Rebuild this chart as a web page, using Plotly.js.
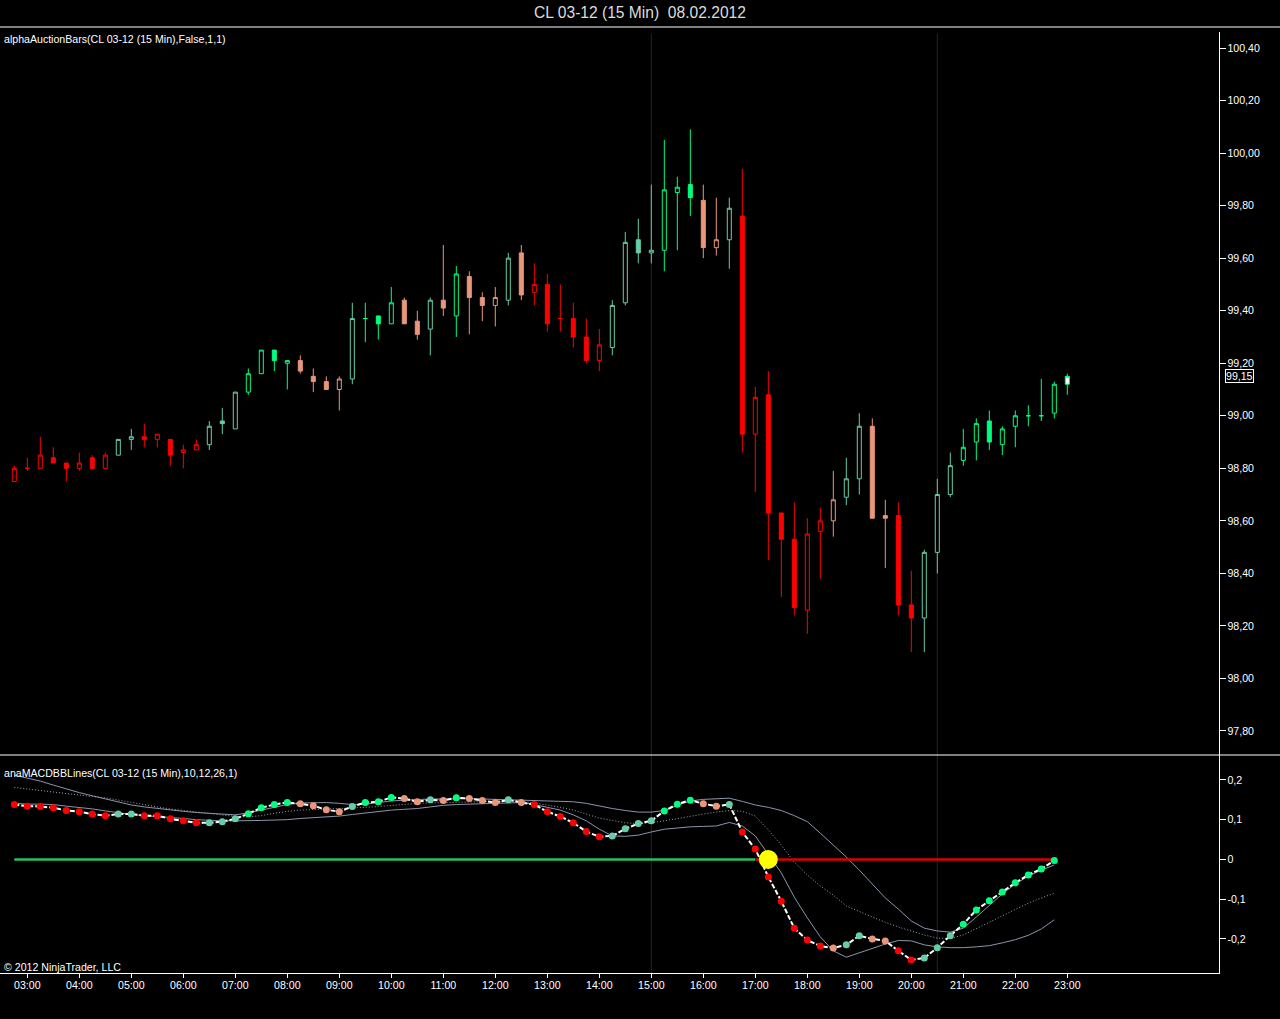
<!DOCTYPE html>
<html>
<head>
<meta charset="utf-8">
<script src="https://cdn.plot.ly/plotly-3.0.1.min.js"></script>
<style>
html,body{margin:0;padding:0;background:#000;overflow:hidden}
#chart{width:1280px;height:1019px}
</style>
</head>
<body>
<div id="chart"></div>
<script>
// ---------------- DATA ----------------
const chartDate = '2012-02-08';
const chartTitle = 'CL 03-12 (15 Min)\u00a0 08.02.2012';
const priceLabel = 'alphaAuctionBars(CL 03-12 (15 Min),False,1,1)';
const macdLabel = 'anaMACDBBLines(CL 03-12 (15 Min),10,12,26,1)';
const copyrightText = '\u00a9 2012 NinjaTrader, LLC';

const times = [
  '02:45',
  '03:00','03:15','03:30','03:45','04:00','04:15','04:30','04:45',
  '05:00','05:15','05:30','05:45','06:00','06:15','06:30','06:45',
  '07:00','07:15','07:30','07:45','08:00','08:15','08:30','08:45',
  '09:00','09:15','09:30','09:45','10:00','10:15','10:30','10:45',
  '11:00','11:15','11:30','11:45','12:00','12:15','12:30','12:45',
  '13:00','13:15','13:30','13:45','14:00','14:15','14:30','14:45',
  '15:00','15:15','15:30','15:45','16:00','16:15','16:30','16:45',
  '17:00','17:15','17:30','17:45','18:00','18:15','18:30','18:45',
  '19:00','19:15','19:30','19:45','20:00','20:15','20:30','20:45',
  '21:00','21:15','21:30','21:45','22:00','22:15','22:30','22:45',
  '23:00'
];

const openP = [98.75,98.80,98.80,98.84,98.82,98.80,98.84,98.80,98.85,98.91,
  98.92,98.91,98.91,98.86,98.87,98.89,98.98,98.95,99.09,99.16,
  99.25,99.20,99.21,99.15,99.13,99.10,99.14,99.37,99.38,99.35,
  99.44,99.36,99.33,99.44,99.38,99.53,99.45,99.42,99.44,99.62,
  99.47,99.50,99.37,99.37,99.30,99.21,99.26,99.43,99.67,99.62,
  99.63,99.85,99.88,99.82,99.64,99.67,99.76,98.93,99.08,98.63,
  98.53,98.26,98.56,98.60,98.69,98.76,98.96,98.62,98.62,98.28,
  98.23,98.48,98.70,98.83,98.90,98.98,98.89,98.96,99.00,99.00,
  99.01,99.12];
const highP = [98.81,98.84,98.92,98.88,98.82,98.86,98.85,98.86,98.91,98.95,
  98.97,98.93,98.91,98.89,98.91,98.98,99.03,99.09,99.18,99.25,
  99.25,99.21,99.23,99.18,99.15,99.15,99.43,99.43,99.38,99.49,
  99.45,99.40,99.45,99.65,99.57,99.55,99.47,99.49,99.62,99.65,
  99.58,99.54,99.50,99.43,99.37,99.33,99.44,99.70,99.75,99.88,
  100.05,99.91,100.09,99.88,99.83,99.83,99.94,99.11,99.17,98.63,
  98.67,98.61,98.65,98.79,98.84,99.01,98.99,98.68,98.67,98.41,
  98.49,98.76,98.86,98.95,98.99,99.02,98.96,99.02,99.04,99.14,
  99.13,99.16];
const lowP = [98.75,98.79,98.80,98.82,98.75,98.79,98.80,98.80,98.85,98.87,
  98.88,98.88,98.81,98.80,98.87,98.87,98.93,98.95,99.08,99.16,
  99.17,99.10,99.16,99.09,99.10,99.02,99.12,99.28,99.29,99.35,
  99.35,99.29,99.23,99.38,99.30,99.31,99.36,99.34,99.42,99.44,
  99.42,99.32,99.32,99.26,99.20,99.17,99.23,99.42,99.58,99.58,
  99.55,99.63,99.76,99.60,99.61,99.56,98.86,98.71,98.45,98.31,
  98.24,98.17,98.38,98.54,98.66,98.70,98.61,98.42,98.24,98.10,
  98.10,98.40,98.69,98.81,98.83,98.87,98.85,98.88,98.96,98.98,
  98.99,99.08];
const closeP = [98.80,98.80,98.85,98.82,98.80,98.82,98.80,98.85,98.91,98.92,
  98.91,98.93,98.85,98.87,98.89,98.96,98.97,99.09,99.16,99.25,
  99.21,99.21,99.17,99.13,99.10,99.14,99.37,99.37,99.35,99.43,
  99.35,99.31,99.44,99.41,99.54,99.45,99.42,99.45,99.60,99.46,
  99.50,99.35,99.37,99.30,99.21,99.27,99.42,99.66,99.62,99.63,
  99.86,99.87,99.83,99.64,99.67,99.79,98.93,99.07,98.63,98.53,
  98.27,98.55,98.60,98.68,98.76,98.96,98.61,98.61,98.28,98.23,
  98.48,98.70,98.81,98.88,98.97,98.90,98.95,99.00,99.00,99.00,
  99.12,99.15];

// trend class of each bar (also colours the MACD dots)
const barClass = [
  'R','R','R','R','R','R','R','R','A','A',
  'R','R','R','R','R','A','A','A','G','G',
  'G','G','S','S','S','S','A','G','G','G',
  'S','S','A','S','G','S','S','S','A','S',
  'R','R','R','R','R','R','A','A','A','A',
  'G','G','G','S','S','A','R','R','R','R',
  'R','R','R','S','A','A','S','S','R','R',
  'A','A','A','G','G','G','G','G','G','G',
  'G','G'];

const macd = [0.138,0.134,0.133,0.130,0.123,0.120,0.114,0.110,0.114,0.114,
  0.110,0.110,0.102,0.097,0.092,0.092,0.095,0.102,0.115,0.130,
  0.138,0.143,0.140,0.135,0.125,0.120,0.133,0.143,0.145,0.156,
  0.153,0.145,0.150,0.148,0.155,0.153,0.148,0.143,0.150,0.143,
  0.138,0.120,0.108,0.092,0.070,0.057,0.059,0.077,0.090,0.097,
  0.122,0.139,0.149,0.140,0.134,0.138,0.069,0.026,-0.044,-0.105,
  -0.173,-0.203,-0.218,-0.223,-0.215,-0.192,-0.200,-0.205,-0.230,-0.253,
  -0.248,-0.222,-0.192,-0.163,-0.127,-0.104,-0.082,-0.059,-0.039,-0.024,
  -0.003];
const bbUpper = [0.212,0.205,0.197,0.187,0.177,0.168,0.160,0.152,0.144,0.137,
  0.132,0.128,0.124,0.121,0.118,0.116,0.113,0.112,0.117,0.124,
  0.132,0.138,0.142,0.143,0.143,0.141,0.138,0.139,0.143,0.147,
  0.149,0.151,0.152,0.152,0.153,0.153,0.152,0.151,0.149,0.149,
  0.148,0.147,0.146,0.145,0.141,0.134,0.128,0.123,0.119,0.119,
  0.123,0.136,0.147,0.151,0.152,0.154,0.146,0.137,0.131,0.123,
  0.110,0.095,0.066,0.036,0.006,-0.027,-0.062,-0.097,-0.125,-0.155,
  -0.173,-0.180,-0.183,-0.173,-0.145,-0.115,-0.087,-0.062,-0.042,-0.027,
  -0.014];
const bbMiddle = [0.181,0.177,0.173,0.170,0.166,0.162,0.158,0.155,0.149,0.143,
  0.137,0.132,0.127,0.123,0.119,0.116,0.112,0.108,0.107,0.110,
  0.116,0.121,0.124,0.126,0.127,0.128,0.129,0.131,0.133,0.136,
  0.138,0.141,0.142,0.143,0.144,0.144,0.145,0.146,0.146,0.146,
  0.142,0.137,0.131,0.124,0.114,0.104,0.098,0.092,0.090,0.092,
  0.097,0.103,0.109,0.114,0.119,0.123,0.121,0.109,0.074,0.036,
  -0.007,-0.039,-0.067,-0.090,-0.117,-0.132,-0.145,-0.158,-0.170,-0.180,
  -0.190,-0.198,-0.199,-0.190,-0.174,-0.158,-0.140,-0.125,-0.110,-0.097,
  -0.085];
const bbLower = [0.141,0.139,0.139,0.138,0.134,0.131,0.127,0.122,0.117,0.113,
  0.110,0.108,0.105,0.103,0.100,0.098,0.097,0.097,0.097,0.098,
  0.099,0.100,0.103,0.105,0.108,0.109,0.113,0.117,0.121,0.124,
  0.126,0.128,0.132,0.136,0.138,0.139,0.141,0.142,0.142,0.143,
  0.138,0.131,0.124,0.112,0.097,0.076,0.059,0.058,0.061,0.069,
  0.076,0.079,0.082,0.083,0.084,0.093,0.084,0.059,0.014,-0.034,
  -0.095,-0.147,-0.195,-0.230,-0.246,-0.235,-0.225,-0.213,-0.204,-0.205,
  -0.215,-0.220,-0.222,-0.222,-0.220,-0.217,-0.210,-0.202,-0.191,-0.175,
  -0.152];

const tickLabels = ['03:00','04:00','05:00','06:00','07:00','08:00','09:00','10:00','11:00','12:00',
  '13:00','14:00','15:00','16:00','17:00','18:00','19:00','20:00','21:00','22:00','23:00'];
const macdTickVals = [0.2, 0.1, 0, -0.1, -0.2];
const macdTickText = ['0,2', '0,1', '0', '-0,1', '-0,2'];
const sessionBreaks = ['15:00', '20:30'];
const lastPriceText = '99,15';

// ---------------- STYLE ----------------
const classColor = {R:'#FF0000', S:'#E9967A', G:'#00FF7F', A:'#66CDAA'};
const FONT = 'Liberation Sans, Arial, sans-serif';
const SMALL = 10.6;
const W = 1280, H = 1019;
const py = v => 1 - v / H;   // pixel-from-top -> paper

const dt = t => chartDate + ' ' + t;
const X = times.map(dt);
const lastIdx = times.length - 1;

const traces = [];

// candles, one trace per colour class (filled = close<open, hollow = close>open)
['R','S','G','A'].forEach(c => {
  const idx = [];
  for (let i = 0; i < lastIdx; i++) if (barClass[i] === c) idx.push(i);
  traces.push({
    type: 'candlestick', xaxis: 'x', yaxis: 'y',
    x: idx.map(i => X[i]), open: idx.map(i => openP[i]), high: idx.map(i => highP[i]),
    low: idx.map(i => lowP[i]), close: idx.map(i => closeP[i]),
    increasing: {line: {color: classColor[c], width: 1}, fillcolor: '#000000'},
    decreasing: {line: {color: classColor[c], width: 1}, fillcolor: classColor[c]},
    whiskerwidth: 0, hoverinfo: 'skip', showlegend: false
  });
});
// current (last) bar: white body
traces.push({
  type: 'candlestick', xaxis: 'x', yaxis: 'y',
  x: [X[lastIdx]], open: [openP[lastIdx]], high: [highP[lastIdx]], low: [lowP[lastIdx]], close: [closeP[lastIdx]],
  increasing: {line: {color: classColor[barClass[lastIdx]], width: 1}, fillcolor: '#FFFFFF'},
  decreasing: {line: {color: classColor[barClass[lastIdx]], width: 1}, fillcolor: '#FFFFFF'},
  whiskerwidth: 0, hoverinfo: 'skip', showlegend: false
});

// MACD panel
const mX = X.slice(0, macd.length);
const bandStyle = {color: '#8a95ab', width: 1};
traces.push({type:'scatter', mode:'lines', x:mX, y:bbUpper, xaxis:'x', yaxis:'y2', line:bandStyle, hoverinfo:'skip'});
traces.push({type:'scatter', mode:'lines', x:mX, y:bbLower, xaxis:'x', yaxis:'y2', line:bandStyle, hoverinfo:'skip'});
traces.push({type:'scatter', mode:'lines', x:mX, y:bbMiddle, xaxis:'x', yaxis:'y2', line:{color:'#9ea3b0', width:1, dash:'1px,2px'}, hoverinfo:'skip'});

let crossIdx = macd.findIndex(v => v < 0);
const zeroLine = mX.map(() => 0);
traces.push({type:'scatter', mode:'lines', x:mX.slice(0, crossIdx), y:zeroLine.slice(0, crossIdx), xaxis:'x', yaxis:'y2', line:{color:'#1fc46c', width:2.5}, hoverinfo:'skip'});
traces.push({type:'scatter', mode:'lines', x:mX.slice(crossIdx-1), y:zeroLine.slice(crossIdx-1), xaxis:'x', yaxis:'y2', line:{color:'#dd0000', width:2.5}, hoverinfo:'skip'});

traces.push({type:'scatter', mode:'lines', x:mX, y:macd, xaxis:'x', yaxis:'y2', line:{color:'#ffffff', width:2, dash:'5px,2px'}, hoverinfo:'skip'});
traces.push({type:'scatter', mode:'markers', x:mX, y:macd, xaxis:'x', yaxis:'y2',
  marker:{size:7, color: macd.map((v,i) => classColor[barClass[i]]), line:{width:0}}, hoverinfo:'skip'});
traces.push({type:'scatter', mode:'markers', x:[mX[crossIdx]], y:[0], xaxis:'x', yaxis:'y2',
  marker:{size:19, color:'#FFFF00', line:{width:0}}, hoverinfo:'skip'});

const xRange = [chartDate + ' 02:28:30', '2012-02-09 01:55:23'];

const layout = {
  width: W, height: H,
  margin: {l:0, r:0, t:0, b:0, pad:0},
  paper_bgcolor: '#000000', plot_bgcolor: '#000000',
  font: {family: FONT, size: SMALL, color: '#ffffff'},
  separators: ',.',
  showlegend: false, hovermode: false, dragmode: false,
  boxmode: 'overlay', boxgap: 0.69, boxgroupgap: 0,
  title: {text: chartTitle, x: 0.5, xanchor: 'center', y: py(13), yanchor: 'middle',
          font: {family: FONT, size: 15.6, color: '#dcdcdc'}},
  xaxis: {
    type: 'date', domain: [0, 1219.3 / W], range: xRange, anchor: 'y2',
    rangeslider: {visible: false},
    tickmode: 'array', tickvals: tickLabels.map(dt), ticktext: tickLabels,
    ticks: 'outside', ticklen: 4, tickcolor: '#ffffff', tickwidth: 1, ticklabelstandoff: -2,
    showline: true, linecolor: '#ffffff', linewidth: 1,
    showgrid: false, zeroline: false, tickfont: {size: SMALL, color: '#ffffff'}
  },
  yaxis: {
    domain: [py(755), py(32)], range: [97.7086, 100.4609], side: 'right', anchor: 'x',
    tickmode: 'linear', tick0: 97.8, dtick: 0.2, tickformat: '.2f',
    ticks: 'outside', ticklen: 6, tickcolor: '#ffffff', tickwidth: 1, ticklabelstandoff: -1,
    showline: true, linecolor: '#ffffff', linewidth: 1,
    showgrid: false, zeroline: false, tickfont: {size: SMALL, color: '#ffffff'}
  },
  yaxis2: {
    domain: [py(973.3), py(755)], range: [-0.28654, 0.26264], side: 'right', anchor: 'x',
    tickmode: 'array', tickvals: macdTickVals, ticktext: macdTickText,
    ticks: 'outside', ticklen: 6, tickcolor: '#ffffff', tickwidth: 1, ticklabelstandoff: -1,
    showline: true, linecolor: '#ffffff', linewidth: 1,
    showgrid: false, zeroline: false, tickfont: {size: SMALL, color: '#ffffff'}
  },
  shapes: [
    {type:'line', xref:'paper', yref:'paper', x0:0, x1:1, y0:py(27), y1:py(27), line:{color:'#ffffff', width:1}},
    {type:'line', xref:'paper', yref:'paper', x0:0, x1:1, y0:py(755), y1:py(755), line:{color:'#ffffff', width:1}},
    ...sessionBreaks.map(t => ({type:'line', xref:'x', yref:'paper', x0:dt(t), x1:dt(t), y0:py(973), y1:py(34),
      line:{color:'#3a163a', width:1}, layer:'below'}))
  ],
  annotations: [
    {xref:'paper', yref:'paper', x:2/W, y:py(39), xanchor:'left', yanchor:'middle', text:priceLabel, showarrow:false,
     font:{size:SMALL, color:'#ffffff'}},
    {xref:'paper', yref:'paper', x:2/W, y:py(773), xanchor:'left', yanchor:'middle', text:macdLabel, showarrow:false,
     font:{size:SMALL, color:'#ffffff'}},
    {xref:'paper', yref:'paper', x:2/W, y:py(967), xanchor:'left', yanchor:'middle', text:copyrightText, showarrow:false,
     font:{size:SMALL, color:'#ffffff'}},
    {xref:'paper', yref:'y', x:1225/W, y:closeP[lastIdx], xanchor:'left', yanchor:'middle', text:lastPriceText, showarrow:false,
     font:{size:SMALL, color:'#ffffff'}, bgcolor:'#000000', bordercolor:'#ffffff', borderwidth:1, borderpad:0}
  ]
};

Plotly.newPlot('chart', traces, layout, {staticPlot: true, displayModeBar: false});
</script>
</body>
</html>
